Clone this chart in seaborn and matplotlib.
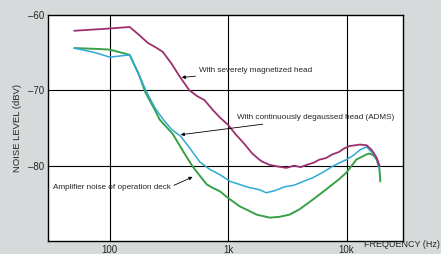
import numpy as np
import pandas as pd
import matplotlib
matplotlib.use("Agg")
import matplotlib.pyplot as plt
import seaborn as sns

# ---- data ----
mag_f = [50, 100, 147, 175, 209, 250, 280, 330, 390, 470, 550, 630, 740, 850, 1000,
         1150, 1350, 1600, 1900, 2240, 2600, 3100, 3600, 4100, 4600, 5300, 5900, 6700,
         7600, 8600, 9600, 10600, 11800, 13000, 14800, 16300, 17900, 19000]
mag_db = [-62.1, -61.8, -61.6, -62.6, -63.7, -64.4, -64.9, -66.4, -68.2, -70.0, -70.8,
          -71.3, -72.6, -73.6, -74.6, -75.8, -77.0, -78.4, -79.4, -79.9, -80.1, -80.3,
          -80.0, -80.2, -79.9, -79.6, -79.2, -79.0, -78.5, -78.2, -77.7, -77.4, -77.3,
          -77.2, -77.3, -77.9, -78.9, -80.0]

cyan_f = [50, 75, 100, 147, 180, 210, 240, 280, 333, 397, 480, 575, 700, 850, 1040,
          1250, 1500, 1840, 2100, 2500, 3000, 3600, 4300, 5200, 6300, 7600, 8800, 10000,
          11500, 13000, 14800, 15600, 17000, 18500, 19000]
cyan_db = [-64.4, -65.0, -65.6, -65.3, -68.3, -70.6, -72.3, -73.8, -75.2, -76.1, -77.8,
           -79.5, -80.5, -81.2, -82.1, -82.5, -82.9, -83.2, -83.6, -83.3, -82.8, -82.6,
           -82.1, -81.6, -80.9, -80.1, -79.6, -79.2, -78.6, -77.9, -77.5, -77.9, -78.5,
           -79.5, -80.5]

grn_f = [50, 75, 100, 147, 175, 200, 240, 264, 340, 420, 500, 580, 660, 750, 850, 1000,
         1250, 1500, 1740, 2240, 2700, 3300, 4000, 5200, 6300, 7600, 8800, 10000, 12100,
         14800, 15600, 16800, 18000, 19000, 19300]
grn_db = [-64.4, -64.5, -64.6, -65.3, -67.8, -70.3, -72.6, -73.9, -75.8, -78.2, -80.1,
          -81.4, -82.5, -83.0, -83.4, -84.3, -85.4, -86.0, -86.5, -86.9, -86.8, -86.5,
          -85.8, -84.5, -83.5, -82.5, -81.7, -80.9, -79.2, -78.5, -78.4, -78.6, -79.2,
          -80.5, -82.1]

series_names = ["magnetized", "degaussed", "amplifier"]
series_colors = ["#9c2f6e", "#2ea9d6", "#38a046"]
yticks = [-60, -70, -80]
xticks = [100, 1000, 10000]
xtick_labels = ["100", "1k", "10k"]

df = pd.concat([
    pd.DataFrame({"f": mag_f, "db": mag_db, "s": series_names[0]}),
    pd.DataFrame({"f": cyan_f, "db": cyan_db, "s": series_names[1]}),
    pd.DataFrame({"f": grn_f, "db": grn_db, "s": series_names[2]}),
])

sns.set_style("white")
plt.rcParams["font.family"] = ["Liberation Sans", "DejaVu Sans"]

fig = plt.figure(figsize=(4.41, 2.54), dpi=100)
fig.patch.set_facecolor("#d6dadb")
ax = fig.add_axes([0.1088, 0.0512, 0.805, 0.89])
ax.set_facecolor("white")

# draw green first, then cyan, then magenta
widths = {"magnetized": 1.3, "degaussed": 1.1, "amplifier": 1.4}
for name, col in zip(series_names[::-1], series_colors[::-1]):
    sns.lineplot(data=df[df.s == name], x="f", y="db", color=col, lw=widths[name],
                 estimator=None, sort=False, ax=ax, legend=False)

ax.set_xscale("log")
ax.set_xlim(30, 30000)
ax.set_ylim(-90, -60)
ax.set_xticks(xticks)
ax.set_xticklabels(xtick_labels)
ax.minorticks_off()
ax.set_yticks(yticks)
ax.set_yticklabels(["\u2013" + str(abs(v)) for v in yticks])
for v in yticks[1:]:
    ax.axhline(v, color="black", lw=0.8, zorder=0.5)
for v in xticks:
    ax.axvline(v, color="black", lw=0.8, zorder=0.5)
for sp in ax.spines.values():
    sp.set_visible(True)
    sp.set_color("black")
    sp.set_linewidth(1.0)
ax.tick_params(axis="both", length=2, width=0.8, color="black", labelsize=7, pad=1)
ax.set_xlabel("")
ax.set_ylabel("NOISE LEVEL (dBV)", fontsize=6.8, labelpad=4)
fig.text(0.998, 0.018, "FREQUENCY (Hz)", ha="right", va="bottom", fontsize=6.5)

ap = dict(arrowstyle="-|>", color="black", lw=0.6, mutation_scale=5, shrinkA=0, shrinkB=0)
ax.annotate("With severely magnetized head", xy=(405, -68.3), xytext=(563, -67.4),
            fontsize=5.9, va="center", ha="left", arrowprops=ap)
ax.annotate("With continuously degaussed head (ADMS)", xy=(397, -75.9), xytext=(1180, -73.6),
            fontsize=5.9, va="center", ha="left", arrowprops=ap)
ax.annotate("Amplifier noise of operation deck", xy=(500, -81.5), xytext=(33, -82.9),
            fontsize=5.9, va="center", ha="left",
            arrowprops=dict(ap, relpos=(1.0, 0.6)))

fig.savefig("out.png", dpi=100, facecolor=fig.get_facecolor())
